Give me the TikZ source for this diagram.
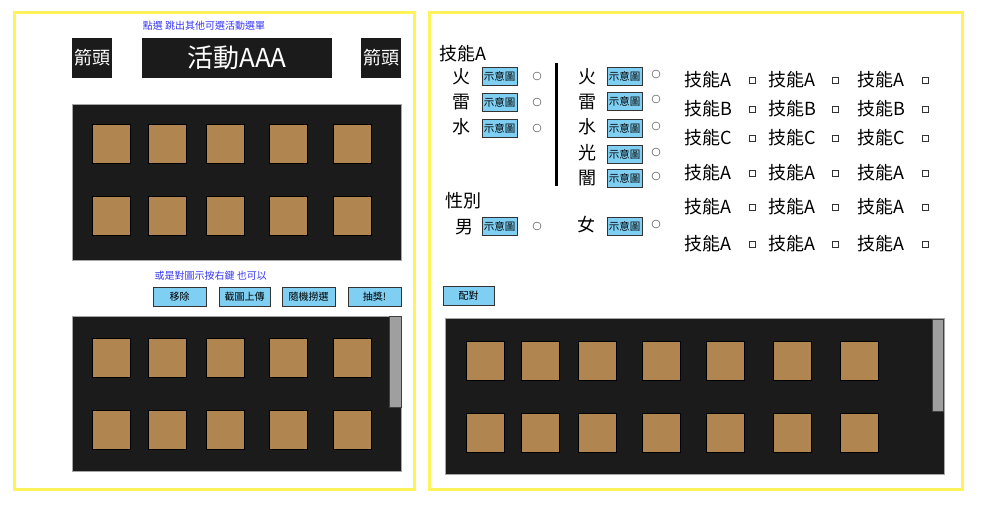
\documentclass[tikz,border=0pt]{standalone}
\usepackage{fontspec}
\setmainfont{Noto Sans CJK TC}
\usetikzlibrary{positioning}
\definecolor{darkbg}{HTML}{1B1B1B}
\definecolor{tilecol}{HTML}{B08550}
\definecolor{btncol}{HTML}{7FCFF2}
\definecolor{yel}{HTML}{FFF25A}
\definecolor{hint}{HTML}{3535F5}
\tikzset{
frame/.style={draw=yel, line width=3pt},
panel/.style={
  rectangle,
  draw=gray!70,
  fill=darkbg,
  anchor=north west},
tile/.style={
  rectangle,
  draw=black,
  fill=tilecol,
  minimum width=38pt,
  minimum height=39pt,
  anchor=north west},
scroll/.style={rectangle, draw=gray!50!black, fill=gray!75, anchor=north west},
darkbtn/.style={
  rectangle,
  fill=darkbg,
  text=white,
  inner sep=0pt,
  minimum height=40pt,
  font=\fontsize{18}{18}\selectfont},
button/.style={
  rectangle,
  draw=black!80,
  fill=btncol,
  minimum width=52pt,
  minimum height=19pt,
  inner sep=0pt,
  font=\fontsize{10}{10}\selectfont},
pic/.style={
  rectangle,
  draw=black!80,
  fill=btncol,
  minimum width=35pt,
  minimum height=18pt,
  inner sep=0pt,
  font=\fontsize{10.5}{10}\selectfont},
hinttext/.style={text=hint, font=\fontsize{10}{10}\selectfont},
label/.style={font=\fontsize{18}{18}\selectfont, inner sep=0pt},
radio/.style={circle, draw=black!80, minimum size=8pt, inner sep=0pt},
check/.style={rectangle, draw=black!80, minimum size=5.5pt, inner sep=0pt}
}

\begin{document}
\begin{tikzpicture}[x=1pt, y=-1pt]
    \useasboundingbox (0,0) rectangle (1002,509);
    \draw[frame] (14.5,12.5) rectangle (414.5,489);
    \draw[frame] (429.5,12.5) rectangle (962,489);
    % left page
    \node[hinttext] (hinttop) at (204,26) {點選 跳出其他可選活動選單};
    \node[darkbtn, minimum width=40pt] (arrowl) at (92,58) {箭頭};
    \node[darkbtn, minimum width=190pt, font=\fontsize{26}{26}\selectfont] (event) at (237,58) {活動AAA};
    \node[darkbtn, minimum width=40pt] (arrowr) at (381,58) {箭頭};
    \node[panel, minimum width=329pt, minimum height=156pt] (board1) at (72,104) {};
    \foreach \x in {92,148,206,269,333}
      \foreach \y in {124,196}
        \node[tile] (t1-\x-\y) at (\x,\y) {};
    \node[hinttext, anchor=west] (hintmid) at (151,276) {或是對圖示按右鍵 也可以};
    \node[button, minimum width=53pt] (remove) at (179.5,296.5) {移除};
    \node[button, minimum width=51pt] (upload) at (244.5,296.5) {截圖上傳};
    \node[button, minimum width=53pt] (random) at (308.5,296.5) {隨機撈選};
    \node[button, minimum width=53pt] (lottery) at (374.5,296.5) {抽獎!};
    \node[panel, minimum width=329pt, minimum height=155pt] (board2) at (72,316) {};
    \node[scroll, minimum width=12pt, minimum height=91pt] (bar2) at (389,316) {};
    \foreach \x in {92,148,206,269,333}
      \foreach \y in {338,410}
        \node[tile] (t2-\x-\y) at (\x,\y) {};
    % right page
    \node[label, anchor=west] (skill) at (439,54) {技能A};
    \node[label] (fire1) at (461,77) {火};
    \node[label] (thunder1) at (461,102) {雷};
    \node[label] (water1) at (461,127) {水};
    \node[label] (fire2) at (587,77) {火};
    \node[label] (thunder2) at (587,102) {雷};
    \node[label] (water2) at (587,127) {水};
    \node[label] (light2) at (587,153) {光};
    \node[label] (dark2) at (587,178) {闇};
    \node[label, anchor=west] (gender) at (445,201) {性別};
    \node[label] (male) at (464,227) {男};
    \node[label] (female) at (586,225) {女};
    \foreach \n/\y in {fire1/76,thunder1/102,water1/128,male/226}{
      \node[pic] (\n-pic) at (499.5,\y) {示意圖};
      \node[radio] (\n-opt) at (537,\y) {};
    }
    \foreach \n/\y in {fire2/76,thunder2/101,water2/128,light2/154,dark2/178,female/226}{
      \node[pic] (\n-pic) at (624.5,\y) {示意圖};
      \node[radio] (\n-opt) at (656,\y-2) {};
    }
    \draw[line width=2.5pt] (556.5,63) -- (556.5,186);
    \foreach \s/\y in {A/80,B/109,C/138,A/173,A/207,A/244}{
      \node[label] (sk1-\y) at (708,\y) {技能\s};
      \node[check] (ck1-\y) at (752,\y) {};
      \node[label] (sk2-\y) at (792,\y) {技能\s};
      \node[check] (ck2-\y) at (835,\y) {};
      \node[label] (sk3-\y) at (881,\y) {技能\s};
      \node[check] (ck3-\y) at (925,\y) {};
    }
    \node[button, minimum width=51pt] (match) at (468.5,296) {配對};
    \node[panel, minimum width=499pt, minimum height=156pt] (board3) at (445,318) {};
    \node[scroll, minimum width=11pt, minimum height=92pt] (bar3) at (932,319) {};
    \foreach \x in {466,521,578,642,706,773,840}
      \foreach \y in {341,413}
        \node[tile] (t3-\x-\y) at (\x,\y) {};
\end{tikzpicture}
\end{document}
